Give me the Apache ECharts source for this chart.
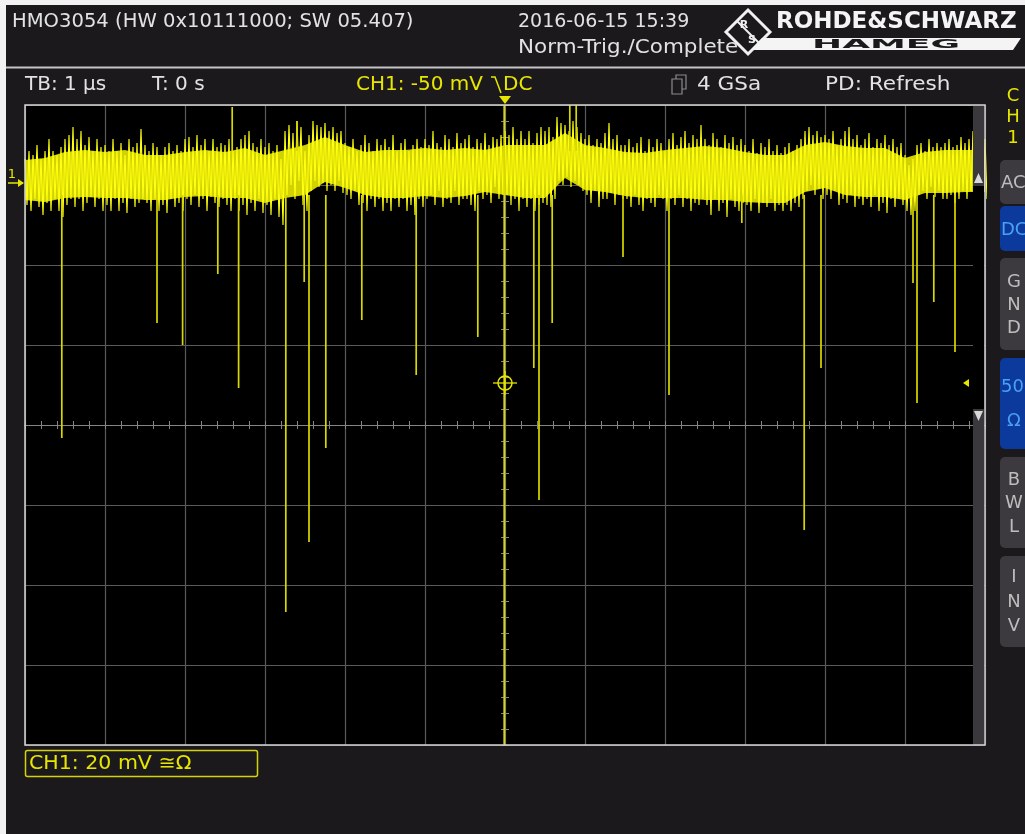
<!DOCTYPE html>
<html>
<head>
<meta charset="utf-8">
<title>HMO3054 CH1</title>
<script src="https://cdn.jsdelivr.net/npm/echarts@6/dist/echarts.min.js"></script>
<style>
  html, body { margin: 0; padding: 0; background: #1b191c; }
  #chart { width: 1025px; height: 834px; }
</style>
</head>
<body>
<div id="chart"></div>
<script>
// Acquisition: 1 µs/div, 12 divisions, CH1 20 mV/div, trigger at -50 mV (falling edge)
const timeMin = -6, timeMax = 6;          // µs
const voltMin = -140.5, voltMax = 19.5;   // mV shown on screen (8 div x 20 mV)
const triggerTime = 0;                    // µs
const triggerLevel = -50;                 // mV

// Peak-detect extremes of the noisy baseline, one pair every 0.05 µs (mV)
const sampleStart = -6;
const sampleStep = 0.05;
const traceHigh = [
  6, 8, 7, 9.5, 6, 8, 11, 8, 7, 9,
  11, 12, 14, 11, 13, 9.5, 11.5, 8, 11, 9,
  9.5, 8, 11, 8, 10, 7, 11, 9, 10, 13.5,
  9.5, 8, 10, 9, 7, 9, 10, 8, 9.5, 8,
  11, 11.5, 9, 12, 9.5, 11, 8, 11, 9, 10,
  9.5, 11, 8, 9, 11, 12, 13, 10, 9, 11,
  9, 10, 8, 9.5, 6, 13, 14.5, 12.5, 15.5, 14,
  8, 12, 15.5, 14.5, 14, 15, 13, 14, 12.5, 13,
  10, 9, 11, 8, 9.5, 12, 10, 8, 11, 9.5,
  11, 9, 12, 8, 10, 11, 8, 9.5, 11, 9,
  11, 9.5, 13, 10, 9, 12, 11, 9, 12.5, 10,
  11, 12, 9, 11, 10, 12.5, 9.5, 11.5, 11, 12,
  13, 12, 14, 11, 13, 11, 13, 10, 12.5, 14,
  13, 14, 11.5, 16.5, 15, 14.5, 13, 15.5, 14, 12.5,
  11, 12, 9.5, 11, 10, 12.5, 15, 11, 12, 9.5,
  9.5, 11, 9, 10, 11.5, 8, 11, 9, 11, 10,
  8, 11, 12.5, 9.5, 11.5, 13, 10, 12, 11, 14.5,
  11, 9.5, 12.5, 11, 9, 12, 10, 11.5, 9.5, 11,
  9.5, 8, 11, 7.5, 10, 9, 11, 8, 9.5, 7.5,
  9, 10, 8, 9.5, 11, 13, 14, 12, 13, 11.5,
  12, 11, 13, 9.5, 11, 13, 14, 11, 12, 9.5,
  11, 12.5, 9, 11, 10, 12, 9.5, 11, 9, 10,
  7, 4.5, 6, 9.5, 10, 8, 11, 9, 10, 9,
  10, 11, 9, 9.5, 11.5, 10, 11, 13, 12, 11, 11
];
const traceLow = [
  -5.5, -7, -4, -6, -8, -5, -7, -4, -7, -8.5,
  -5.5, -4, -6, -4, -7, -5, -3.5, -6, -4, -7,
  -5.5, -7, -4, -7, -5, -7.5, -4, -6, -5, -4,
  -5, -7, -4, -7, -5.5, -7.5, -4, -6, -5, -7,
  -4, -5.5, -3, -6, -4, -7, -3.5, -5, -6, -4,
  -5.5, -7, -4, -7, -5.5, -8, -5, -7, -4, -7.5,
  -5.5, -8, -4, -8.5, -10.5, -3, -0.5, -4, 0.5, -5.5,
  -7, -2, 0.5, -1, 0, -2, -0.5, -2, 0.5, -2.5,
  -3, -4, -2, -5.5, -5, -7, -4, -6, -4, -7,
  -5, -7, -4, -6, -4, -7, -5.5, -8, -4, -6,
  -4, -3, -5.5, -2, -6, -4, -5, -2, -5.5, -4,
  -4, -5.5, -7, -2, -4, -3, -5, -1, -4, -3,
  -3, -5.5, -4, -7, -4, -6, -4, -7, -5.5, -5,
  -5.5, -6, -4, 0.5, -0.5, 1.5, -1, 0.5, -0.5, -2,
  -3, -5, -2, -6, -4, -4, -2.5, -5.5, -3, -4,
  -4, -6, -3, -5.5, -7, -4, -5, -6, -3, -4,
  -7, -4, -5.5, -3, -6, -4, -7, -5, -5.5, -4,
  -5.5, -8, -4, -7, -5, -8.5, -4, -6, -7, -5,
  -5.5, -7, -4, -7.5, -5, -6, -4, -7, -5.5, -7,
  -5.5, -7, -5, -6, -4, -2, -0.5, -3, -1.5, -4,
  -3, -4, -2, -5.5, -4, -5, -3, -6, -4, -5.5,
  -4, -6, -3, -7, -5, -7.5, -4, -6, -4, -5.5,
  -7, -8, -7, -3, -2, -4, -1, -3.5, -2, -4,
  -4, -3, -5, -4, -2, -4, -2, -3.5, -3, -4, -4
];

// Dense core of the baseline noise, one pair every 0.25 µs (mV)
const coreStep = 0.25;
const coreHigh = [
  5.75, 6.25, 7.75, 8.25, 7.75, 8.25, 7, 7, 7.75, 8.25,
  7.75, 8.75, 7, 8.25, 9.5, 11.5, 9.5, 7.75, 8.25, 8.25,
  8.75, 8.25, 8.75, 8.25, 9.5, 9.5, 9.5, 12.5, 9.5, 8.75,
  7.75, 7.5, 8.25, 8.75, 9.25, 8.75, 7.75, 7, 7, 9.5,
  10.25, 9.25, 8.75, 8.75, 6.25, 7.75, 8.25, 8.25, 8.25
];
const coreLow = [
  -4.25, -4.75, -3.75, -3.5, -3.75, -3.75, -4.25, -4.25, -3.5, -3.25,
  -3.75, -3.75, -5, -3.75, -3, 0.25, -1.25, -3, -3.75, -3.75,
  -3.25, -3.75, -3.25, -2.25, -3, -3.75, -3.75, 1.25, -1.75, -2.25,
  -3.25, -3.75, -3.75, -3.75, -4.25, -4.25, -4.75, -5, -5, -2.25,
  -1.25, -3, -3.5, -3.5, -4.25, -2.5, -2.5, -2.25, -2.25
];

// Negative-going glitches: time (µs) and lowest value (mV)
const dipTimes = [-5.54, -4.35, -4.03, -3.59, -3.33, -2.74, -2.51, -2.45, -2.24, -1.79,
                  -1.11, -0.34, 0.36, 0.425, 0.59, 1.475, 2.05, 2.96, 3.74, 3.95,
                  5.1, 5.15, 5.36, 5.625];
const dipDepths = [-63.75, -35, -40.5, -22.75, -51.25, -107.25, -24.75, -89.75, -66.25, -34.25,
                   -48, -38.5, -46.25, -79.25, -35, -18.5, -53, -10, -86.75, -46.25,
                   -25, -55, -29.75, -42.25];
// Positive-going glitches: time (µs) and peak (mV)
const riseTimes = [-3.41, -2.6, 0.81, 0.89];
const risePeaks = [19, 15.5, 25, 25];
// Full-scale glitch at the trigger point (exceeds the screen both ways)
const bigGlitch = { time: -0.01, high: 25, low: -150 };
const baselineTop = 8, baselineBottom = -3;

// The trace alternates between each sample's max and min, as the scope draws it
const traceData = [];
traceHigh.forEach((h, i) => {
  const t = sampleStart + i * sampleStep;
  traceData.push([t, h], [t + sampleStep / 2, traceLow[i]]);
});
const glitchData = [];
dipTimes.forEach((t, i) => glitchData.push([t, baselineBottom, dipDepths[i]]));
riseTimes.forEach((t, i) => glitchData.push([t, baselineTop, risePeaks[i]]));
glitchData.push([bigGlitch.time, bigGlitch.high, bigGlitch.low]);

const YEL = '#e6e600';
const TXT = '#e2e2e2';
const FONT = '"DejaVu Sans", sans-serif';
const GRIDC = '#5a5a5a';
const TICKC = '#858585';

function txt(x, y, s, opts) {
  opts = opts || {};
  return {
    type: 'text', x: x, y: y, z: 50, silent: true,
    scaleX: opts.scaleX || 1,
    style: {
      text: s, fill: opts.fill || TXT,
      font: (opts.weight || 'normal') + ' ' + (opts.size || 18) + 'px ' + FONT,
      align: opts.align || 'left', verticalAlign: 'middle'
    }
  };
}

// Side-panel soft keys
const keys = [
  { top: 160, h: 44, fill: '#3c3a3e', color: '#bdbdbd', rows: [['AC', 183]], left: true },
  { top: 206, h: 45, fill: '#0c3a9c', color: '#49a0f5', rows: [['DC', 230]], left: true },
  { top: 258, h: 92, fill: '#3c3a3e', color: '#bdbdbd', rows: [['G', 282], ['N', 305], ['D', 328]] },
  { top: 358, h: 91, fill: '#0c3a9c', color: '#49a0f5', rows: [['50', 387, true], ['Ω', 421]] },
  { top: 457, h: 91, fill: '#3c3a3e', color: '#bdbdbd', rows: [['B', 480], ['W', 503], ['L', 527]] },
  { top: 556, h: 91, fill: '#3c3a3e', color: '#bdbdbd', rows: [['I', 577], ['N', 602], ['V', 626]] }
];
const keyGraphics = [];
keys.forEach(k => {
  keyGraphics.push({
    type: 'rect', z: 40, silent: true,
    shape: { x: 1000, y: k.top, width: 40, height: k.h, r: 5 },
    style: { fill: k.fill }
  });
  k.rows.forEach(r => {
    const leftAligned = k.left || r[2];
    keyGraphics.push(txt(leftAligned ? 1001 : 1014, r[1], r[0],
      { fill: k.color, size: 18, align: leftAligned ? 'left' : 'center' }));
  });
});

const graphics = [
  // light margin of the screen capture
  { type: 'rect', z: 60, silent: true, shape: { x: 0, y: 0, width: 1025, height: 5 }, style: { fill: '#f2f2f2' } },
  { type: 'rect', z: 60, silent: true, shape: { x: 0, y: 0, width: 6, height: 834 }, style: { fill: '#f2f2f2' } },
  // header
  txt(12, 22, 'HMO3054 (HW 0x10111000; SW 05.407)', { size: 19, scaleX: 1.03 }),
  txt(518, 22, '2016-06-15 15:39', { size: 19 }),
  txt(518, 48, 'Norm-Trig./Complete', { size: 19, scaleX: 1.13 }),
  // R&S diamond
  {
    type: 'polygon', z: 50, silent: true,
    shape: { points: [[748, 10], [770, 32], [748, 54], [726, 32]] },
    style: { fill: 'none', stroke: '#f0f0f0', lineWidth: 3 }
  },
  {
    type: 'polyline', z: 50, silent: true,
    shape: { points: [[737, 21], [759, 43]] },
    style: { stroke: '#f0f0f0', lineWidth: 2 }
  },
  txt(744, 25, 'R', { size: 11, weight: 'bold', fill: '#f0f0f0', align: 'center' }),
  txt(752, 40, 'S', { size: 11, weight: 'bold', fill: '#f0f0f0', align: 'center' }),
  txt(776, 22, 'ROHDE&SCHWARZ', { size: 23, weight: 'bold', fill: '#f4f4f4' }),
  {
    type: 'polygon', z: 50, silent: true,
    shape: { points: [[762, 38], [1021, 38], [1013, 50], [751, 50]] },
    style: { fill: '#f4f4f4' }
  },
  {
    type: 'text', x: 812, y: 44.5, z: 51, silent: true, scaleX: 3,
    style: { text: 'HAMEG', fill: '#1b191c', font: 'bold 12px ' + FONT, verticalAlign: 'middle' }
  },
  // separator
  {
    type: 'line', z: 50, silent: true,
    shape: { x1: 0, y1: 67.5, x2: 1025, y2: 67.5 },
    style: { stroke: '#c4c4c4', lineWidth: 2 }
  },
  // status row
  txt(25, 85, 'TB: 1 µs', { size: 20 }),
  txt(152, 85, 'T: 0 s', { size: 20 }),
  txt(356, 85, 'CH1: -50 mV', { size: 20, fill: YEL }),
  {
    type: 'polyline', z: 50, silent: true,
    shape: { points: [[491, 77], [495, 77], [501, 93]] },
    style: { stroke: YEL, lineWidth: 1.5, fill: 'none' }
  },
  txt(503, 85, 'DC', { size: 20, fill: YEL }),
  {
    type: 'rect', z: 50, silent: true,
    shape: { x: 676, y: 75, width: 10, height: 14 },
    style: { fill: '#1b191c', stroke: '#8a8a8a', lineWidth: 1.2 }
  },
  {
    type: 'rect', z: 50, silent: true,
    shape: { x: 672, y: 79, width: 10, height: 15 },
    style: { fill: '#1b191c', stroke: '#8a8a8a', lineWidth: 1.2 }
  },
  txt(697, 85, '4 GSa', { size: 20, scaleX: 1.08 }),
  txt(825, 85, 'PD: Refresh', { size: 20, scaleX: 1.08 }),
  // channel label on the side
  txt(1013, 96, 'C', { size: 18, fill: YEL, align: 'center' }),
  txt(1013, 117, 'H', { size: 18, fill: YEL, align: 'center' }),
  txt(1013, 138, '1', { size: 18, fill: YEL, align: 'center' }),
  // vertical position bar at the screen's right edge
  {
    type: 'rect', z: 40, silent: true,
    shape: { x: 973, y: 105, width: 11, height: 640 },
    style: { fill: '#3a383c' }
  },
  {
    type: 'rect', z: 41, silent: true,
    shape: { x: 973, y: 186, width: 11, height: 223 },
    style: { fill: '#000' }
  },
  {
    type: 'polygon', z: 42, silent: true,
    shape: { points: [[978.5, 173], [983, 183], [974, 183]] },
    style: { fill: '#d8d8d8' }
  },
  {
    type: 'polygon', z: 42, silent: true,
    shape: { points: [[974, 411], [983, 411], [978.5, 421]] },
    style: { fill: '#d8d8d8' }
  },
  // screen frame
  {
    type: 'rect', z: 45, silent: true,
    shape: { x: 25, y: 105, width: 960, height: 640 },
    style: { fill: 'none', stroke: '#d6d6d6', lineWidth: 1.5 }
  },
  // vertical scale box
  {
    type: 'rect', z: 50, silent: true,
    shape: { x: 25.5, y: 750.5, width: 232, height: 26, r: 2 },
    style: { fill: 'none', stroke: '#d4d400', lineWidth: 1.5 }
  },
  txt(29, 764, 'CH1: 20 mV ≅Ω', { size: 19, fill: YEL, scaleX: 1.08 })
].concat(keyGraphics);

const chart = echarts.init(document.getElementById('chart'), null, { renderer: 'canvas' });

const hiddenLabel = { show: false };
chart.setOption({
  backgroundColor: '#1b191c',
  animation: false,
  grid: {
    left: 25, top: 105, width: 960, height: 640,
    show: true, backgroundColor: '#000', borderWidth: 0
  },
  xAxis: [
    {
      type: 'value', min: timeMin, max: timeMax, interval: 1,
      axisLine: { show: true, onZero: true, onZeroAxisIndex: 0, lineStyle: { color: TICKC, width: 1 } },
      axisTick: { show: true, inside: true, length: 4, lineStyle: { color: TICKC } },
      minorTick: { show: true, splitNumber: 5, length: 4, lineStyle: { color: TICKC } },
      axisLabel: hiddenLabel,
      splitLine: { show: true, lineStyle: { color: GRIDC, width: 1.2 } }
    },
    {
      type: 'value', min: timeMin, max: timeMax, interval: 1, position: 'bottom',
      axisLine: { show: true, onZero: true, onZeroAxisIndex: 0, lineStyle: { color: TICKC, width: 1 } },
      axisTick: { show: true, inside: false, length: 4, lineStyle: { color: TICKC } },
      minorTick: { show: true, splitNumber: 5, length: 4, lineStyle: { color: TICKC } },
      axisLabel: hiddenLabel,
      splitLine: { show: false }
    }
  ],
  yAxis: [
    {
      type: 'value', min: -4, max: 4, interval: 1,
      axisLine: { show: true, onZero: true, onZeroAxisIndex: 0, lineStyle: { color: TICKC, width: 1 } },
      axisTick: { show: true, inside: true, length: 4, lineStyle: { color: TICKC } },
      minorTick: { show: true, splitNumber: 5, length: 4, lineStyle: { color: TICKC } },
      axisLabel: hiddenLabel,
      splitLine: { show: true, lineStyle: { color: GRIDC, width: 1.2 } }
    },
    {
      type: 'value', min: -4, max: 4, interval: 1, position: 'left',
      axisLine: { show: true, onZero: true, onZeroAxisIndex: 0, lineStyle: { color: TICKC, width: 1 } },
      axisTick: { show: true, inside: false, length: 4, lineStyle: { color: TICKC } },
      minorTick: { show: true, splitNumber: 5, length: 4, lineStyle: { color: TICKC } },
      axisLabel: hiddenLabel,
      splitLine: { show: false }
    },
    { type: 'value', min: voltMin, max: voltMax, show: false, splitLine: { show: false } }
  ],
  series: [
    {
      // dense core of the noise band
      name: 'CH1 core', type: 'custom', xAxisIndex: 0, yAxisIndex: 2,
      data: [[sampleStart, 0]], clip: true, z: 4, silent: true,
      renderItem: function (params, api) {
        const pts = [];
        coreHigh.forEach((h, i) => pts.push(api.coord([sampleStart + i * coreStep, h])));
        for (let i = coreLow.length - 1; i >= 0; i--) {
          pts.push(api.coord([sampleStart + i * coreStep, coreLow[i]]));
        }
        return { type: 'polygon', shape: { points: pts }, style: { fill: '#d2d200' } };
      }
    },
    {
      name: 'CH1', type: 'line', xAxisIndex: 0, yAxisIndex: 2,
      data: traceData, showSymbol: false, symbol: 'none', clip: true,
      lineStyle: { color: '#ffff10', width: 1.15 }, z: 5, silent: true
    },
    {
      name: 'CH1 glitches', type: 'custom', xAxisIndex: 0, yAxisIndex: 2,
      data: glitchData, clip: true, z: 6, silent: true,
      encode: { x: 0, y: [1, 2] },
      renderItem: function (params, api) {
        const a = api.coord([api.value(0), api.value(1)]);
        const b = api.coord([api.value(0), api.value(2)]);
        return {
          type: 'line',
          shape: { x1: a[0], y1: a[1], x2: b[0], y2: b[1] },
          style: { stroke: '#d8d800', lineWidth: 1.7 }
        };
      }
    },
    {
      name: 'Trigger', type: 'custom', xAxisIndex: 0, yAxisIndex: 2,
      data: [[triggerTime, triggerLevel]], clip: false, z: 7, silent: true,
      renderItem: function (params, api) {
        const p = api.coord([api.value(0), api.value(1)]);
        const top = api.coord([api.value(0), voltMax]);
        const right = api.coord([timeMax, api.value(1)]);
        return {
          type: 'group',
          children: [
            { type: 'circle', shape: { cx: p[0], cy: p[1], r: 7 },
              style: { fill: 'none', stroke: YEL, lineWidth: 1.5 } },
            { type: 'line', shape: { x1: p[0] - 12, y1: p[1], x2: p[0] + 12, y2: p[1] },
              style: { stroke: YEL, lineWidth: 1.3 } },
            { type: 'line', shape: { x1: p[0], y1: p[1] - 12, x2: p[0], y2: p[1] + 12 },
              style: { stroke: YEL, lineWidth: 1.3 } },
            // trigger position marker above the screen
            { type: 'polygon', shape: { points: [[top[0] - 6, top[1] - 9], [top[0] + 6, top[1] - 9], [top[0], top[1] - 1]] },
              style: { fill: YEL } },
            // trigger level marker at the right edge
            { type: 'polygon', shape: { points: [[right[0] - 22, p[1]], [right[0] - 16, p[1] - 4], [right[0] - 16, p[1] + 4]] },
              style: { fill: YEL } }
          ]
        };
      }
    },
    {
      name: 'CH1 offset', type: 'custom', xAxisIndex: 0, yAxisIndex: 2,
      data: [[timeMin, 0]], clip: false, z: 7, silent: true,
      renderItem: function (params, api) {
        const p = api.coord([api.value(0), api.value(1)]);
        return {
          type: 'group',
          children: [
            { type: 'text', x: p[0] - 13, y: p[1] - 8,
              style: { text: '1', fill: YEL, font: '13px ' + FONT, align: 'center', verticalAlign: 'middle' } },
            { type: 'line', shape: { x1: p[0] - 17, y1: p[1], x2: p[0] - 2, y2: p[1] },
              style: { stroke: YEL, lineWidth: 1.5 } },
            { type: 'polygon', shape: { points: [[p[0] - 1, p[1]], [p[0] - 7, p[1] - 4], [p[0] - 7, p[1] + 4]] },
              style: { fill: YEL } }
          ]
        };
      }
    }
  ],
  graphic: graphics
});
</script>
</body>
</html>
